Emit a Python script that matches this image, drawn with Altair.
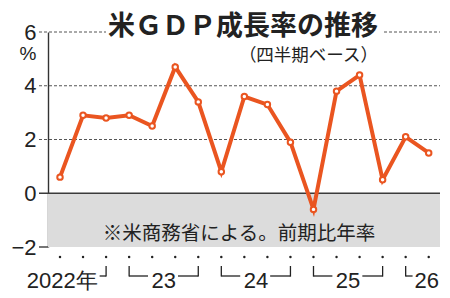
import altair as alt
import pandas as pd

# ---- data ----
values = [0.6, 2.9, 2.8, 2.9, 2.5, 4.7, 3.4, 0.8, 3.6, 3.3, 1.9, -0.6, 3.8, 4.4, 0.5, 2.1, 1.5]
quarters = list(range(len(values)))
y_ticks = [-2, 0, 2, 4, 6]
grid_levels = [2, 4, 6]
year_labels = ["2022年", "23", "24", "25", "26"]
year_first = [0, 3, 7, 11, 15]
year_last = [2, 6, 10, 14, 16]
title_text = "米ＧＤＰ成長率の推移"
subtitle_text = "（四半期ベース）"
note_text = "※米商務省による。前期比年率"
unit_text = "%"

# ---- style ----
W, H = 392, 215
ORANGE = "#ea5520"
DARK = "#222222"
JP = "Noto Sans CJK JP"
NUM = "Liberation Sans"
NARROW = "Liberation Sans Narrow, Liberation Sans"

x_scale = alt.Scale(domain=[-0.521, 16.49], nice=False, zero=False)
y_scale = alt.Scale(domain=[-2, 6], nice=False, zero=False)

df = pd.DataFrame({"q": quarters, "v": values})
one = pd.DataFrame({"a": [0]})

# gray area below zero
neg_area = alt.Chart(one).mark_rect(color="#dcdcdc").encode(
    x=alt.value(0), x2=alt.value(W),
    y=alt.YDatum(0, scale=y_scale), y2=alt.Y2Datum(-2),
)

grid = alt.Chart(pd.DataFrame({"lvl": grid_levels})).mark_rule(
    strokeDash=[3, 2], color="#555555", strokeWidth=1
).encode(y=alt.Y("lvl:Q", scale=y_scale), x=alt.value(-9), x2=alt.value(W))

zero_line = alt.Chart(one).mark_rule(color="#3a3a3a", strokeWidth=1.4).encode(
    y=alt.YDatum(0, scale=y_scale), x=alt.value(-9), x2=alt.value(W)
)
bottom_tick = alt.Chart(one).mark_rule(color="#3a3a3a", strokeWidth=1.4).encode(
    y=alt.YDatum(-2, scale=y_scale), x=alt.value(-9), x2=alt.value(0)
)

title_bg = alt.Chart(one).mark_rect(color="white").encode(
    x=alt.value(58), x2=alt.value(334), y=alt.value(-22), y2=alt.value(6)
)

y_axis = alt.Axis(
    values=y_ticks, title=None, grid=False, ticks=False, tickSize=0,
    labelFont=NUM, labelFontSize=22, labelColor=DARK, labelPadding=12,
    domainColor="#333333", domainWidth=1.4,
)

line = alt.Chart(df).mark_line(color=ORANGE, strokeWidth=4).encode(
    x=alt.X("q:Q", scale=x_scale, axis=None),
    y=alt.Y("v:Q", scale=y_scale, axis=y_axis),
)
points = alt.Chart(df).mark_point(
    shape="circle", filled=True, fill="white", stroke=ORANGE, strokeWidth=2,
    size=30, opacity=1
).encode(x=alt.X("q:Q", scale=x_scale), y=alt.Y("v:Q", scale=y_scale))

# quarter dots under the plot
dots = alt.Chart(df).mark_circle(color=DARK, size=6, opacity=1).encode(
    x=alt.X("q:Q", scale=x_scale), y=alt.value(225)
)

# year brackets
h_rows, v_rows, mid_rows = [], [], []
n = len(year_labels)
for i, (lab, f, l) in enumerate(zip(year_labels, year_first, year_last)):
    if i == 0:
        h_rows.append({"a": l - 0.28, "b": l})
        v_rows.append({"a": l})
    elif i == n - 1:
        h_rows.append({"a": f, "b": f + 0.3})
        v_rows.append({"a": f})
    else:
        m = (f + l) / 2
        h_rows.append({"a": f, "b": m - 0.68})
        h_rows.append({"a": m + 0.62, "b": l})
        v_rows.append({"a": f})
        v_rows.append({"a": l})
        mid_rows.append({"x": m, "t": lab})

h_br = alt.Chart(pd.DataFrame(h_rows)).mark_rule(color=DARK, strokeWidth=1.3).encode(
    x=alt.X("a:Q", scale=x_scale), x2="b:Q", y=alt.value(244)
)
v_br = alt.Chart(pd.DataFrame(v_rows)).mark_rule(color=DARK, strokeWidth=1.3).encode(
    x=alt.X("a:Q", scale=x_scale), y=alt.value(234), y2=alt.value(244.6)
)

lab_style = dict(font=NARROW, fontSize=22, color=DARK, baseline="alphabetic")
mid_labels = alt.Chart(pd.DataFrame(mid_rows)).mark_text(align="center", **lab_style).encode(
    x=alt.X("x:Q", scale=x_scale), y=alt.value(256), text="t:N"
)
first_label = alt.Chart(pd.DataFrame({"x": [year_last[0] - 0.36], "t": [year_labels[0]]})).mark_text(
    align="right", **lab_style
).encode(x=alt.X("x:Q", scale=x_scale), y=alt.value(256), text="t:N")
last_label = alt.Chart(pd.DataFrame({"x": [year_first[-1] + 0.38], "t": [year_labels[-1]]})).mark_text(
    align="left", **lab_style
).encode(x=alt.X("x:Q", scale=x_scale), y=alt.value(256), text="t:N")

title = alt.Chart(pd.DataFrame({"t": [title_text]})).mark_text(
    font=JP, fontSize=27, fontWeight="bold", color=DARK, align="center", baseline="alphabetic"
).encode(x=alt.value(195), y=alt.value(3), text="t:N")
subtitle = alt.Chart(pd.DataFrame({"t": [subtitle_text]})).mark_text(
    font=JP, fontSize=17.5, color=DARK, align="right", baseline="alphabetic"
).encode(x=alt.value(330), y=alt.value(29), text="t:N")
unit = alt.Chart(pd.DataFrame({"t": [unit_text]})).mark_text(
    font=NUM, fontSize=19, color=DARK, align="center", baseline="alphabetic"
).encode(x=alt.value(-20), y=alt.value(28), text="t:N")
note = alt.Chart(pd.DataFrame({"t": [note_text]})).mark_text(
    font=JP, fontSize=19.5, color=DARK, align="center", baseline="alphabetic"
).encode(x=alt.value(191), y=alt.value(208), text="t:N")

chart = alt.layer(
    neg_area, grid, zero_line, bottom_tick, title_bg, line, points, dots,
    h_br, v_br, mid_labels, first_label, last_label, title, subtitle, unit, note
).properties(
    width=W, height=H,
    autosize=alt.AutoSizeParams(type="none"),
    padding={"left": 48, "top": 32, "right": 10, "bottom": 51},
).configure_view(stroke=None)

chart.save("out.html", embed_options={"renderer": "svg", "actions": False})
